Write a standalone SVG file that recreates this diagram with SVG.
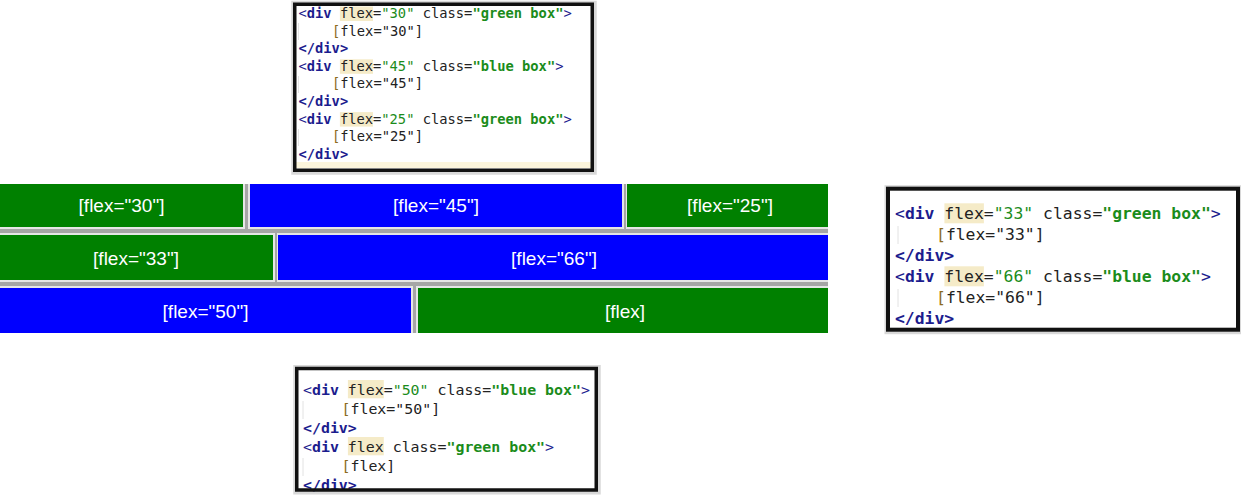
<svg xmlns="http://www.w3.org/2000/svg" width="1241" height="495" viewBox="0 0 1241 495">
<style>
.lbl{font-family:"Liberation Sans",Arial,sans-serif;font-size:19px;fill:#ffffff;text-anchor:middle}
.code{font-family:"DejaVu Sans Mono","Liberation Mono",monospace;fill:#222222}
.c1{font-size:13.75px}.c2{font-size:16.4px}.c3{font-size:14.9px}
.t{fill:#1c1c8e}.b{font-weight:bold}.s{fill:#1b8c1b}.br{fill:#8c6b1d}
.hl{fill:#f5ebc8}
.frame{fill:none;stroke:#111111}
.shadow{fill:none;stroke:#b8b8b8;opacity:0.55}
.guide{stroke:#e2e2e2;stroke-width:1}
.dk{fill:#a6a6a6}.lt{fill:#e6e6e6}.g{fill:#008000}.bl{fill:#0000ff}
</style>

<g id="flex-rows">
  <g id="row1">
    <rect class="lt" x="0" y="184" width="245" height="45"/>
    <rect class="g" x="0" y="184" width="243" height="43"/>
    <rect class="dk" x="245" y="184" width="379" height="45"/>
    <rect class="lt" x="248" y="184" width="376" height="45"/>
    <rect class="bl" x="250" y="184" width="372" height="43"/>
    <rect class="dk" x="624" y="184" width="204" height="45"/>
    <rect class="lt" x="626" y="184" width="202" height="45"/>
    <rect class="g" x="627" y="184" width="201" height="43"/>
    <text class="lbl" x="121.5" y="212">[flex="30"]</text>
    <text class="lbl" x="436" y="212">[flex="45"]</text>
    <text class="lbl" x="730" y="212">[flex="25"]</text>
  </g>
  <g id="row2">
    <rect class="dk" x="0" y="229" width="275" height="53"/>
    <rect class="lt" x="0" y="233" width="275" height="49"/>
    <rect class="g" x="0" y="235" width="273" height="45"/>
    <rect class="dk" x="275" y="229" width="553" height="53"/>
    <rect class="lt" x="277" y="233" width="551" height="49"/>
    <rect class="bl" x="278" y="235" width="550" height="45"/>
    <text class="lbl" x="136" y="264.5">[flex="33"]</text>
    <text class="lbl" x="554" y="264.5">[flex="66"]</text>
  </g>
  <g id="row3">
    <rect class="dk" x="0" y="282" width="413" height="51"/>
    <rect class="lt" x="0" y="286" width="413" height="47"/>
    <rect class="bl" x="0" y="288" width="411" height="45"/>
    <rect class="dk" x="413" y="282" width="415" height="51"/>
    <rect class="lt" x="416" y="286" width="412" height="47"/>
    <rect class="g" x="418" y="288" width="410" height="45"/>
    <text class="lbl" x="205.5" y="318">[flex="50"]</text>
    <text class="lbl" x="625" y="318">[flex]</text>
  </g>
</g>

<g id="code-top">
  <rect class="shadow" x="294.75" y="4.25" width="298.5" height="167" stroke-width="7"/>
  <rect x="294.75" y="4.25" width="297.5" height="166" fill="#ffffff"/>
  <rect x="296" y="162" width="295" height="6" fill="#fcf5dc"/>
  <line class="guide" x1="298.5" y1="23" x2="298.5" y2="40"/>
  <line class="guide" x1="298.5" y1="76" x2="298.5" y2="93"/>
  <line class="guide" x1="298.5" y1="129" x2="298.5" y2="146"/>
  <rect class="hl" x="339.9" y="6.5" width="33.1" height="14.5"/>
  <rect class="hl" x="339.9" y="59.3" width="33.1" height="14.5"/>
  <rect class="hl" x="339.9" y="112.1" width="33.1" height="14.5"/>
  <g class="code c1" xml:space="preserve">
    <text x="298.5" y="18"><tspan class="t">&lt;</tspan><tspan class="t b">div</tspan> flex=<tspan class="s">"30"</tspan> class=<tspan class="s b">"green box"</tspan><tspan class="t">&gt;</tspan></text>
    <text x="332" y="35.6"><tspan class="br">[</tspan>flex="30"]</text>
    <text x="298.5" y="53.2"><tspan class="t b">&lt;/div&gt;</tspan></text>
    <text x="298.5" y="70.8"><tspan class="t">&lt;</tspan><tspan class="t b">div</tspan> flex=<tspan class="s">"45"</tspan> class=<tspan class="s b">"blue box"</tspan><tspan class="t">&gt;</tspan></text>
    <text x="332" y="88.4"><tspan class="br">[</tspan>flex="45"]</text>
    <text x="298.5" y="106"><tspan class="t b">&lt;/div&gt;</tspan></text>
    <text x="298.5" y="123.6"><tspan class="t">&lt;</tspan><tspan class="t b">div</tspan> flex=<tspan class="s">"25"</tspan> class=<tspan class="s b">"green box"</tspan><tspan class="t">&gt;</tspan></text>
    <text x="332" y="141.2"><tspan class="br">[</tspan>flex="25"]</text>
    <text x="298.5" y="158.8"><tspan class="t b">&lt;/div&gt;</tspan></text>
  </g>
  <rect class="frame" x="294.75" y="4.25" width="297.5" height="166" stroke-width="3.5"/>
</g>

<g id="code-right">
  <rect class="shadow" x="888" y="188.7" width="351" height="142" stroke-width="7"/>
  <rect x="888" y="188.7" width="350" height="141" fill="#ffffff"/>
  <line class="guide" x1="898" y1="226" x2="898" y2="244"/>
  <line class="guide" x1="898" y1="289" x2="898" y2="307"/>
  <rect class="hl" x="944.4" y="203.3" width="39.5" height="20"/>
  <rect class="hl" x="944.4" y="266.3" width="39.5" height="20"/>
  <g class="code c2" xml:space="preserve">
    <text x="895" y="219"><tspan class="t">&lt;</tspan><tspan class="t b">div</tspan> flex=<tspan class="s">"33"</tspan> class=<tspan class="s b">"green box"</tspan><tspan class="t">&gt;</tspan></text>
    <text x="936" y="240"><tspan class="br">[</tspan>flex="33"]</text>
    <text x="895" y="261"><tspan class="t b">&lt;/div&gt;</tspan></text>
    <text x="895" y="282"><tspan class="t">&lt;</tspan><tspan class="t b">div</tspan> flex=<tspan class="s">"66"</tspan> class=<tspan class="s b">"blue box"</tspan><tspan class="t">&gt;</tspan></text>
    <text x="936" y="303"><tspan class="br">[</tspan>flex="66"]</text>
    <text x="895" y="324"><tspan class="t b">&lt;/div&gt;</tspan></text>
  </g>
  <rect class="frame" x="888" y="188.7" width="350" height="141" stroke-width="4"/>
</g>

<g id="code-bottom">
  <rect class="shadow" x="296.75" y="368.5" width="300.5" height="122.5" stroke-width="7"/>
  <rect x="296.75" y="368.5" width="299.5" height="121.5" fill="#ffffff"/>
  <line class="guide" x1="303" y1="401" x2="303" y2="419"/>
  <line class="guide" x1="303" y1="458" x2="303" y2="476"/>
  <rect class="hl" x="347.9" y="380" width="35.9" height="18.3"/>
  <rect class="hl" x="347.9" y="437" width="35.9" height="18.3"/>
  <g class="code c3" xml:space="preserve">
    <text x="303" y="394.5"><tspan class="t">&lt;</tspan><tspan class="t b">div</tspan> flex=<tspan class="s">"50"</tspan> class=<tspan class="s b">"blue box"</tspan><tspan class="t">&gt;</tspan></text>
    <text x="341.5" y="413.5"><tspan class="br">[</tspan>flex="50"]</text>
    <text x="303" y="432.5"><tspan class="t b">&lt;/div&gt;</tspan></text>
    <text x="303" y="451.5"><tspan class="t">&lt;</tspan><tspan class="t b">div</tspan> flex class=<tspan class="s b">"green box"</tspan><tspan class="t">&gt;</tspan></text>
    <text x="341.5" y="470.5"><tspan class="br">[</tspan>flex]</text>
    <text x="303" y="489.5"><tspan class="t b">&lt;/div&gt;</tspan></text>
  </g>
  <rect class="frame" x="296.75" y="368.5" width="299.5" height="121.5" stroke-width="3.5"/>
</g>
</svg>
